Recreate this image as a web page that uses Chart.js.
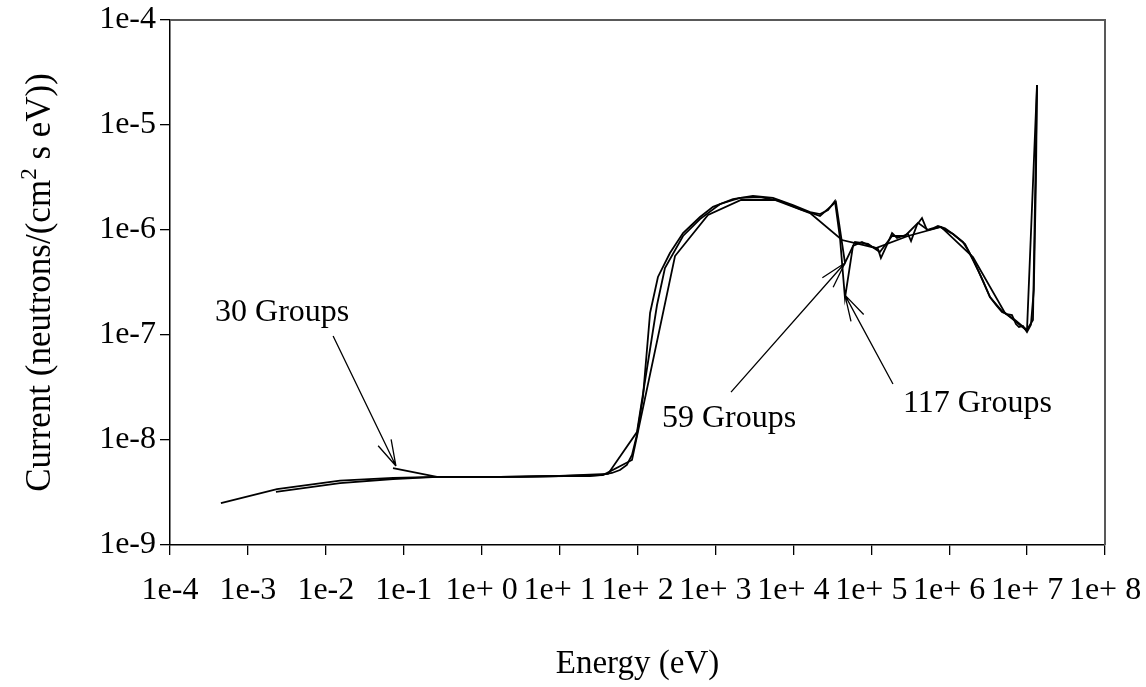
<!DOCTYPE html>
<html>
<head>
<meta charset="utf-8">
<title>Current spectrum</title>
<script src="https://cdn.jsdelivr.net/npm/chart.js@4.4.1/dist/chart.umd.min.js"></script>
<style>
  html, body { margin: 0; padding: 0; background: #fff; }
  #wrap { width: 1146px; height: 687px; }
</style>
</head>
<body>
<div id="wrap"><canvas id="spectrumCanvas" width="1146" height="687"></canvas></div>
<script>
// axis ticks (powers of ten)
const energyTicks = [1e-4, 1e-3, 1e-2, 1e-1, 1e0, 1e1, 1e2, 1e3, 1e4, 1e5, 1e6, 1e7, 1e8];
const currentTicks = [1e-9, 1e-8, 1e-7, 1e-6, 1e-5, 1e-4];

// 117 group structure: energy (eV) / current
const energy117 = [4.5e-4, 2.36e-3, 0.0152, 0.073, 0.27, 0.95, 3.1, 10, 24.5, 33, 47, 59.6, 73, 85, 98.4,
  117.5, 145, 183, 261, 384, 634, 931, 1680, 3030, 5480, 9890, 16400, 22000, 27900, 34200, 39700,
  46000, 58200, 76000, 96400, 1.22e5, 1.33e5, 1.59e5, 1.85e5, 2.14e5, 2.55e5, 2.96e5, 3.24e5,
  3.86e5, 4.48e5, 5.19e5, 6.19e5, 7.18e5, 8.83e5, 1.12e6, 1.5e6, 1.74e6, 2.02e6, 2.34e6, 2.72e6,
  3.34e6, 3.99e6, 4.76e6, 5.52e6, 6.4e6, 7.2e6, 7.87e6, 8.85e6, 9.97e6, 1.12e7, 1.22e7, 1.3e7, 1.34e7];
const current117 = [2.5e-9, 3.4e-9, 4.1e-9, 4.35e-9, 4.45e-9, 4.45e-9, 4.45e-9, 4.54e-9, 4.54e-9,
  4.64e-9, 4.85e-9, 5.18e-9, 5.78e-9, 7.2e-9, 1.12e-8, 2.57e-8, 1.62e-7, 3.57e-7, 6.04e-7, 9.36e-7,
  1.33e-6, 1.66e-6, 1.97e-6, 2.11e-6, 2.02e-6, 1.73e-6, 1.48e-6, 1.42e-6, 1.55e-6, 1.89e-6, 8.39e-7,
  2.25e-7, 7.04e-7, 7.69e-7, 7.04e-7, 6.59e-7, 5.41e-7, 7.2e-7, 9.36e-7, 8.39e-7, 8.77e-7, 9.16e-7,
  7.85e-7, 1.12e-6, 1.3e-6, 1.0e-6, 1.04e-6, 1.09e-6, 1.04e-6, 9.16e-7, 7.69e-7, 6.45e-7, 5.3e-7,
  4.16e-7, 3.27e-7, 2.3e-7, 1.93e-7, 1.66e-7, 1.58e-7, 1.55e-7, 1.27e-7, 1.19e-7, 1.22e-7, 1.07e-7,
  1.25e-7, 2.68e-7, 2.99e-6, 2.4e-5];

// 59 group structure
const energy59 = [2.29e-3, 0.0152, 0.073, 0.27, 1.72, 10, 41.8, 98.4, 178, 225, 384, 634, 1150, 2065,
  3730, 6730, 12200, 22000, 35200, 46000, 61800, 90800, 1.29e5, 1.85e5, 2.71e5, 3.98e5, 5.35e5,
  7.62e5, 1.12e6, 1.6e6, 2.34e6, 3.34e6, 4.76e6, 7.0e6, 9.97e6, 1.19e7, 1.34e7];
const current59 = [3.2e-9, 3.89e-9, 4.25e-9, 4.45e-9, 4.45e-9, 4.54e-9, 4.75e-9, 1.19e-8, 1.93e-7,
  4.35e-7, 8.77e-7, 1.27e-6, 1.77e-6, 2.02e-6, 2.06e-6, 1.89e-6, 1.58e-6, 1.36e-6, 1.85e-6, 4.85e-7,
  7.69e-7, 7.36e-7, 6.17e-7, 8.77e-7, 8.77e-7, 1.17e-6, 1.0e-6, 1.07e-6, 9.16e-7, 7.36e-7, 4.16e-7,
  2.3e-7, 1.69e-7, 1.39e-7, 1.12e-7, 1.39e-7, 2.4e-5];

// 30 group structure
const energy30 = [0.0728, 0.267, 1.72, 11.7, 36, 85, 303, 803, 2130, 5810, 16400, 42100, 1.15e5,
  2.96e5, 7.85e5, 2.02e6, 5.2e6, 9.97e6, 1.34e7];
const current30 = [5.41e-9, 4.45e-9, 4.45e-9, 4.54e-9, 4.64e-9, 6.45e-9, 5.65e-7, 1.39e-6, 1.93e-6,
  1.93e-6, 1.45e-6, 8.03e-7, 6.74e-7, 8.77e-7, 1.07e-6, 5.53e-7, 1.62e-7, 1.1e-7, 2.4e-5];

const groupNames = ['117 Groups', '59 Groups', '30 Groups'];

// callouts: text anchor, arrow tail and arrow tip, all in (energy, current)
const callouts = [
  { text: '30 Groups', at: [3.79e-4, 1.36e-7], tail: [0.0124, 9.8e-8], tip: [0.0794, 5.65e-9] },
  { text: '59 Groups', at: [206, 1.33e-8], tail: [1585, 2.86e-8], tip: [46000, 4.85e-7] },
  { text: '117 Groups', at: [2.55e5, 1.85e-8], tail: [1.9e5, 3.41e-8], tip: [46000, 2.4e-7] }
];

const serif = "'Liberation Serif', 'Times New Roman', serif";

var toPoints = (xs, ys) => xs.map((x, i) => ({ x: x, y: ys[i] }));
var exponent = (v) => Math.round(Math.log10(v));

// gray frame on top and right of the plot area
const framePlugin = {
  id: 'frame',
  afterDraw(chart) {
    const { ctx, chartArea: a } = chart;
    ctx.save();
    ctx.strokeStyle = '#595959';
    ctx.lineWidth = 2;
    ctx.beginPath();
    ctx.moveTo(a.left, a.top);
    ctx.lineTo(a.right, a.top);
    ctx.lineTo(a.right, a.bottom);
    ctx.stroke();
    ctx.restore();
  }
};

// axis titles (y title needs a superscript)
const titlePlugin = {
  id: 'titles',
  afterDraw(chart) {
    const { ctx, chartArea: a } = chart;
    ctx.save();
    ctx.fillStyle = '#000';
    ctx.textBaseline = 'alphabetic';
    ctx.font = '33px ' + serif;
    ctx.textAlign = 'center';
    ctx.fillText('Energy (eV)', (a.left + a.right) / 2, 673);

    const part1 = 'Current (neutrons/(cm';
    const sup = '2';
    const part2 = ' s eV))';
    ctx.translate(50, (a.top + a.bottom) / 2);
    ctx.rotate(-Math.PI / 2);
    ctx.textAlign = 'left';
    ctx.font = '35px ' + serif;
    const w1 = ctx.measureText(part1).width;
    const w3 = ctx.measureText(part2).width;
    ctx.font = '23px ' + serif;
    const w2 = ctx.measureText(sup).width;
    let x = -(w1 + w2 + w3) / 2;
    ctx.font = '35px ' + serif;
    ctx.fillText(part1, x, 0);
    x += w1;
    ctx.font = '23px ' + serif;
    ctx.fillText(sup, x, -14);
    x += w2;
    ctx.font = '35px ' + serif;
    ctx.fillText(part2, x, 0);
    ctx.restore();
  }
};

// labels with arrows pointing at each curve
const calloutPlugin = {
  id: 'callouts',
  afterDatasetsDraw(chart) {
    const { ctx, scales } = chart;
    const px = (p) => [scales.x.getPixelForValue(p[0]), scales.y.getPixelForValue(p[1])];
    ctx.save();
    ctx.strokeStyle = '#000';
    ctx.fillStyle = '#000';
    ctx.lineWidth = 1.3;
    ctx.font = '32px ' + serif;
    ctx.textAlign = 'left';
    ctx.textBaseline = 'alphabetic';
    callouts.forEach((c) => {
      const [tx, ty] = px(c.at);
      ctx.fillText(c.text, tx, ty);
      const [x0, y0] = px(c.tail);
      const [x1, y1] = px(c.tip);
      const ang = Math.atan2(y0 - y1, x0 - x1);
      ctx.beginPath();
      ctx.moveTo(x0, y0);
      ctx.lineTo(x1, y1);
      [-1, 1].forEach((s) => {
        ctx.moveTo(x1, y1);
        ctx.lineTo(x1 + 27 * Math.cos(ang + s * 0.27), y1 + 27 * Math.sin(ang + s * 0.27));
      });
      ctx.stroke();
    });
    ctx.restore();
  }
};

const lineSet = (label, xs, ys) => ({
  label: label,
  data: toPoints(xs, ys),
  showLine: true,
  borderColor: '#000',
  backgroundColor: '#000',
  borderWidth: 1.8,
  pointRadius: 0,
  fill: false,
  tension: 0
});

const chart = new Chart(document.getElementById('spectrumCanvas'), {
  type: 'scatter',
  data: {
    datasets: [
      lineSet(groupNames[0], energy117, current117),
      lineSet(groupNames[1], energy59, current59),
      lineSet(groupNames[2], energy30, current30)
    ]
  },
  options: {
    responsive: false,
    animation: false,
    layout: { padding: { top: 20, right: 41, left: 0, bottom: 0 } },
    plugins: { legend: { display: false }, tooltip: { enabled: false } },
    scales: {
      x: {
        type: 'logarithmic',
        position: 'bottom',
        min: 1e-4,
        max: 1e8,
        afterBuildTicks: (scale) => { scale.ticks = energyTicks.map((v) => ({ value: v })); },
        afterFit: (scale) => {
          // fixed axis band, no extra room for the end labels
          scale.height = 142;
          scale.paddingLeft = 0;
          scale.paddingRight = 0;
        },
        ticks: {
          autoSkip: false,
          maxRotation: 0,
          color: '#000',
          padding: 16,
          font: { family: serif, size: 32 },
          callback: (v) => {
            const p = exponent(v);
            return p < 0 ? '1e' + p : '1e+ ' + p;
          }
        },
        grid: { drawOnChartArea: false, drawTicks: true, tickLength: 10, color: '#000', lineWidth: 1.3 },
        border: { color: '#000', width: 1.5 }
      },
      y: {
        type: 'logarithmic',
        min: 1e-9,
        max: 1e-4,
        afterBuildTicks: (scale) => { scale.ticks = currentTicks.map((v) => ({ value: v })); },
        afterFit: (scale) => {
          scale.width = 170;
          scale.paddingTop = 0;
          scale.paddingBottom = 0;
        },
        ticks: {
          color: '#000',
          padding: 4,
          font: { family: serif, size: 32 },
          callback: (v) => '1e' + exponent(v)
        },
        grid: { drawOnChartArea: false, drawTicks: true, tickLength: 10, color: '#000', lineWidth: 1.3 },
        border: { color: '#000', width: 1.5 }
      }
    }
  },
  plugins: [framePlugin, titlePlugin, calloutPlugin]
});
</script>
</body>
</html>
